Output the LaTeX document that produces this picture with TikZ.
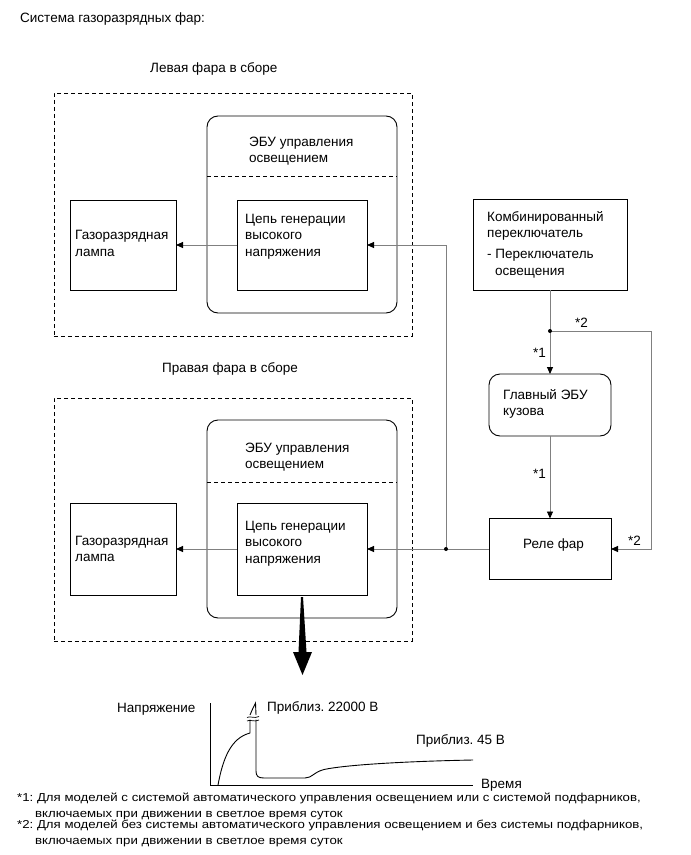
\documentclass[tikz,border=0pt]{standalone}
\usepackage{fontspec}
\setmainfont{Liberation Sans}
\newfontfamily\narrowfont{Liberation Sans}[FakeStretch=1.15]
\usetikzlibrary{arrows.meta}
\newcommand{\mainsz}{\fontsize{13.5bp}{16.5bp}\selectfont}
\newcommand{\notesz}{\narrowfont\fontsize{11.5bp}{16bp}\selectfont}
\newcommand{\lines}[1]{\begin{tabular}[t]{@{}l@{}}#1\end{tabular}}
\frenchspacing
\begin{document}
\begin{tikzpicture}[x=1bp,y=-1bp,
  box/.style={draw=black,line width=0.9bp,inner sep=0pt,outer sep=0pt},
  rbox/.style={box,rounded corners=11bp},
  dbox/.style={draw=black,line width=0.9bp,dash pattern=on 4bp off 3bp,inner sep=0pt,outer sep=0pt},
  divider/.style={draw=black,line width=0.9bp,dash pattern=on 4bp off 3bp},
  wire/.style={draw=black!50,line width=0.9bp},
  arr/.style={wire,-{Triangle[length=7bp,width=6bp,color=black]}},
  txt/.style={anchor=base west,inner sep=0pt,font=\mainsz},
  note/.style={anchor=base west,inner sep=0pt,font=\notesz},
  curve/.style={draw=black,line width=0.9bp}]
\useasboundingbox (0,0) rectangle (691,855);
\fill[white] (0,0) rectangle (691,855);

% titles
\node[txt] (title) at (20,22.5) {Система газоразрядных фар:};
\node[txt] (tL) at (150,72.5) {Левая фара в сборе};
\node[txt] (tR) at (162,372) {Правая фара в сборе};

% left headlamp
\node[dbox,minimum width=358bp,minimum height=243bp] (dashL) at (233,214.5) {};
\node[rbox,minimum width=190bp,minimum height=197bp] (ecuL) at (302,214.5) {};
\draw[divider] (ecuL.west |- 0,176) -- (ecuL.east |- 0,176);
\node[box,minimum width=130bp,minimum height=90bp] (hvL) at (302,245) {};
\node[box,minimum width=106bp,minimum height=90bp] (lampL) at (123,245) {};
\node[txt] (ecuLt) at (249,146) {\lines{ЭБУ управления\\освещением}};
\node[txt] (hvLt) at (245,223) {\lines{Цепь генерации\\высокого\\напряжения}};
\node[txt] (lampLt) at (75,239.5) {\lines{Газоразрядная\\лампа}};

% right headlamp
\node[dbox,minimum width=358bp,minimum height=243bp] (dashR) at (233,519.5) {};
\node[rbox,minimum width=190bp,minimum height=198bp] (ecuR) at (302,519) {};
\draw[divider] (ecuR.west |- 0,482) -- (ecuR.east |- 0,482);
\node[box,minimum width=130bp,minimum height=92bp] (hvR) at (302,549) {};
\node[box,minimum width=106bp,minimum height=92bp] (lampR) at (123,549) {};
\node[txt] (ecuRt) at (245,452) {\lines{ЭБУ управления\\освещением}};
\node[txt] (hvRt) at (245,530) {\lines{Цепь генерации\\высокого\\напряжения}};
\node[txt] (lampRt) at (75,545) {\lines{Газоразрядная\\лампа}};

% right column
\node[box,minimum width=154bp,minimum height=91bp] (swt) at (550,244.5) {};
\node[txt] (swtt) at (487,221) {\lines{Комбинированный\\переключатель\\[4.5bp]- Переключатель\\\hspace{8bp}освещения}};
\node[rbox,minimum width=122bp,minimum height=62bp] (ecuB) at (550,405) {};
\node[txt] (ecuBt) at (503,399) {\lines{Главный ЭБУ\\кузова}};
\node[box,minimum width=122bp,minimum height=61bp] (relay) at (550,549) {};
\node[txt] (relayt) at (523,548) {Реле фар};

% connectors
\coordinate (j1) at (446,549);
\coordinate (j2) at (550,331);
\coordinate (c2) at (651,331);
\draw[arr] (swt.south) -- (ecuB.north);
\draw[arr] (ecuB.south) -- (relay.north);
\draw[arr] (j2) -- (c2) |- (relay.east);
\draw[wire] (relay.west) -- (j1);
\draw[arr] (j1) -- (hvR.east);
\draw[arr] (j1) |- (hvL.east);
\draw[arr] (hvL.west) -- (lampL.east);
\draw[arr] (hvR.west) -- (lampR.east);
\fill (j1) circle (2bp);
\fill (j2) circle (2bp);
\node[txt] (s2a) at (575,327) {*2};
\node[txt] (s1a) at (533,357) {*1};
\node[txt] (s1b) at (533,478) {*1};
\node[txt] (s2b) at (628,545) {*2};

% big arrow
\fill[black] (301,597) -- (303,597) -- (306.5,652) -- (312,652) -- (302.5,675) -- (293,652) -- (298.5,652) -- cycle;

% graph
\draw[curve] (210,703) -- (210,785) -- (473,785);
\draw[curve] (218,785) .. controls (223,758) and (231,738) .. (250,733) -- (250,719.5);
\draw[curve] (250,715) .. controls (252,710) and (254,706) .. (255.5,703) -- (256,715);
\draw[curve,line width=0.7bp] (247,717.5) .. controls (250,715.5) and (254,719) .. (259,716.5);
\draw[curve,line width=0.7bp] (247,721) .. controls (250,719) and (254,722.5) .. (259,720);
\draw[curve] (256,719.5) -- (256,771) .. controls (256,776) and (258,778) .. (264,778)
  -- (305,778) .. controls (312,778) and (314,772) .. (324,769.5)
  .. controls (350,764) and (420,761) .. (473,760);
\node[txt] (ylab) at (117,712) {Напряжение};
\node[txt] (v1) at (267,711) {Приблиз. 22000 В};
\node[txt] (v2) at (416,744) {Приблиз. 45 В};
\node[txt] (xlab) at (481,788) {Время};

% notes
\node[note] (n1) at (17,801) {\lines{*1: Для моделей с системой автоматического управления освещением или с системой подфарников,\\\hspace{18bp}включаемых при движении в светлое время суток}};
\node[note] (n2) at (17,828) {\lines{*2: Для моделей без системы автоматического управления освещением и без системы подфарников,\\\hspace{18bp}включаемых при движении в светлое время суток}};
\end{tikzpicture}
\end{document}
